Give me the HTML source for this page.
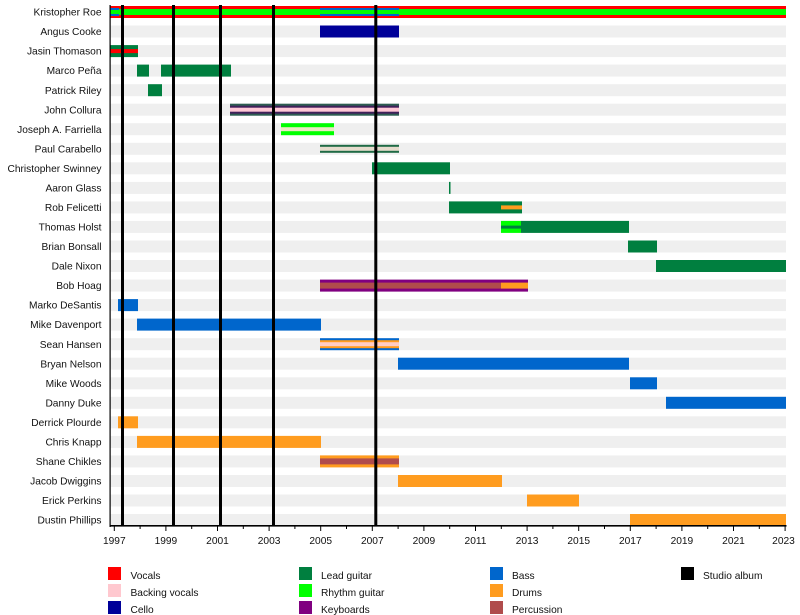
<!DOCTYPE html>
<html>
<head>
<meta charset="utf-8">
<style>
html,body{margin:0;padding:0;background:#fff;}
svg{display:block;}
text{font-family:"Liberation Sans",Arial,sans-serif;font-size:10.2px;fill:#111;}
</style>
</head>
<body>
<svg width="800" height="615" viewBox="0 0 800 615" xmlns="http://www.w3.org/2000/svg">
<!-- row stripes -->
<g fill="#efefef">
<rect x="110" y="6" width="676" height="12"/>
<rect x="110" y="25.5" width="676" height="12"/>
<rect x="110" y="45.1" width="676" height="12"/>
<rect x="110" y="64.6" width="676" height="12"/>
<rect x="110" y="84.2" width="676" height="12"/>
<rect x="110" y="103.7" width="676" height="12"/>
<rect x="110" y="123.2" width="676" height="12"/>
<rect x="110" y="142.8" width="676" height="12"/>
<rect x="110" y="162.3" width="676" height="12"/>
<rect x="110" y="181.9" width="676" height="12"/>
<rect x="110" y="201.4" width="676" height="12"/>
<rect x="110" y="220.9" width="676" height="12"/>
<rect x="110" y="240.5" width="676" height="12"/>
<rect x="110" y="260" width="676" height="12"/>
<rect x="110" y="279.6" width="676" height="12"/>
<rect x="110" y="299.1" width="676" height="12"/>
<rect x="110" y="318.6" width="676" height="12"/>
<rect x="110" y="338.2" width="676" height="12"/>
<rect x="110" y="357.7" width="676" height="12"/>
<rect x="110" y="377.3" width="676" height="12"/>
<rect x="110" y="396.8" width="676" height="12"/>
<rect x="110" y="416.3" width="676" height="12"/>
<rect x="110" y="435.9" width="676" height="12"/>
<rect x="110" y="455.4" width="676" height="12"/>
<rect x="110" y="475" width="676" height="12"/>
<rect x="110" y="494.5" width="676" height="12"/>
<rect x="110" y="514" width="676" height="12"/>
</g>

<!-- bars -->
<!-- 0 Kristopher Roe -->
<rect x="110" y="6" width="676" height="12" fill="#ff0000"/>
<rect x="110" y="9" width="676" height="6" fill="#00ff00"/>
<rect x="110" y="8" width="9" height="8" fill="#0066cc"/>
<rect x="110" y="10" width="9" height="4" fill="#00ff00"/>
<rect x="320" y="8" width="79" height="8" fill="#0066cc"/>
<rect x="320" y="10" width="79" height="4" fill="#00ff00"/>
<!-- 1 Angus Cooke -->
<rect x="320" y="25.5" width="79" height="12" fill="#000099"/>
<!-- 2 Jasin Thomason -->
<rect x="110" y="45.1" width="28" height="12" fill="#007f3f"/>
<rect x="110" y="49.1" width="28" height="4" fill="#ff0000"/>
<!-- 3 Marco Pena -->
<rect x="137" y="64.6" width="12" height="12" fill="#007f3f"/>
<rect x="161" y="64.6" width="70" height="12" fill="#007f3f"/>
<!-- 4 Patrick Riley -->
<rect x="148" y="84.2" width="14" height="12" fill="#007f3f"/>
<!-- 5 John Collura -->
<rect x="230" y="103.7" width="169" height="12" fill="#2d5e52"/>
<rect x="230" y="105.7" width="169" height="8" fill="#40205a"/>
<rect x="230" y="107.7" width="169" height="4" fill="#ffc8d6"/>
<!-- 6 Joseph A. Farriella -->
<rect x="281" y="123.2" width="53" height="12" fill="#00ff00"/>
<rect x="281" y="127.2" width="53" height="4" fill="#ece8c4"/>
<!-- 7 Paul Carabello -->
<rect x="320" y="144.8" width="79" height="8" fill="#1f6a45"/>
<rect x="320" y="146.8" width="79" height="4" fill="#e6dccd"/>
<!-- 8 Christopher Swinney -->
<rect x="372" y="162.3" width="78" height="12" fill="#007f3f"/>
<!-- 9 Aaron Glass -->
<rect x="449" y="181.9" width="1.5" height="12" fill="#007f3f"/>
<!-- 10 Rob Felicetti -->
<rect x="449" y="201.4" width="73" height="12" fill="#007f3f"/>
<rect x="501" y="205.4" width="21" height="4" fill="#ff9c1f"/>
<!-- 11 Thomas Holst -->
<rect x="501" y="220.9" width="20" height="12" fill="#00ff00"/>
<rect x="501" y="225.6" width="20" height="3" fill="#007f3f"/>
<rect x="521" y="220.9" width="108" height="12" fill="#007f3f"/>
<!-- 12 Brian Bonsall -->
<rect x="628" y="240.5" width="29" height="12" fill="#007f3f"/>
<!-- 13 Dale Nixon -->
<rect x="656" y="260" width="130" height="12" fill="#007f3f"/>
<!-- 14 Bob Hoag -->
<rect x="320" y="279.6" width="208" height="12" fill="#800080"/>
<rect x="320" y="282.6" width="181" height="6" fill="#b04c4c"/>
<rect x="501" y="282.6" width="27" height="6" fill="#ff9c1f"/>
<!-- 15 Marko DeSantis -->
<rect x="118" y="299.1" width="20" height="12" fill="#0066cc"/>
<!-- 16 Mike Davenport -->
<rect x="137" y="318.6" width="184" height="12" fill="#0066cc"/>
<!-- 17 Sean Hansen -->
<rect x="320" y="338.2" width="79" height="12" fill="#0066cc"/>
<rect x="320" y="340.2" width="79" height="8" fill="#ff9c1f"/>
<rect x="320" y="342.2" width="79" height="4" fill="#ffccc4"/>
<!-- 18 Bryan Nelson -->
<rect x="398" y="357.7" width="231" height="12" fill="#0066cc"/>
<!-- 19 Mike Woods -->
<rect x="630" y="377.3" width="27" height="12" fill="#0066cc"/>
<!-- 20 Danny Duke -->
<rect x="666" y="396.8" width="120" height="12" fill="#0066cc"/>
<!-- 21 Derrick Plourde -->
<rect x="118" y="416.3" width="20" height="12" fill="#ff9c1f"/>
<!-- 22 Chris Knapp -->
<rect x="137" y="435.9" width="184" height="12" fill="#ff9c1f"/>
<!-- 23 Shane Chikles -->
<rect x="320" y="455.4" width="79" height="12" fill="#ff9c1f"/>
<rect x="320" y="458.4" width="79" height="6" fill="#b04c4c"/>
<!-- 24 Jacob Dwiggins -->
<rect x="398" y="475" width="104" height="12" fill="#ff9c1f"/>
<!-- 25 Erick Perkins -->
<rect x="527" y="494.5" width="52" height="12" fill="#ff9c1f"/>
<!-- 26 Dustin Phillips -->
<rect x="630" y="514" width="156" height="12" fill="#ff9c1f"/>

<!-- studio album lines -->
<g fill="#000">
<rect x="121" y="5" width="3" height="521"/>
<rect x="172" y="5" width="3" height="521"/>
<rect x="219" y="5" width="3" height="521"/>
<rect x="272" y="5" width="3" height="521"/>
<rect x="374.3" y="5" width="3" height="521"/>
</g>

<!-- axes -->
<rect x="109.5" y="5" width="1.2" height="522" fill="#000"/>
<rect x="109.5" y="525" width="677" height="1.6" fill="#000"/>
<g stroke="#000" stroke-width="1">
<line x1="114.3" y1="526" x2="114.3" y2="531"/>
<line x1="140.1" y1="526" x2="140.1" y2="529"/>
<line x1="165.9" y1="526" x2="165.9" y2="531"/>
<line x1="191.7" y1="526" x2="191.7" y2="529"/>
<line x1="217.5" y1="526" x2="217.5" y2="531"/>
<line x1="243.3" y1="526" x2="243.3" y2="529"/>
<line x1="269.1" y1="526" x2="269.1" y2="531"/>
<line x1="294.9" y1="526" x2="294.9" y2="529"/>
<line x1="320.7" y1="526" x2="320.7" y2="531"/>
<line x1="346.5" y1="526" x2="346.5" y2="529"/>
<line x1="372.3" y1="526" x2="372.3" y2="531"/>
<line x1="398.1" y1="526" x2="398.1" y2="529"/>
<line x1="423.9" y1="526" x2="423.9" y2="531"/>
<line x1="449.7" y1="526" x2="449.7" y2="529"/>
<line x1="475.5" y1="526" x2="475.5" y2="531"/>
<line x1="501.3" y1="526" x2="501.3" y2="529"/>
<line x1="527.1" y1="526" x2="527.1" y2="531"/>
<line x1="552.9" y1="526" x2="552.9" y2="529"/>
<line x1="578.7" y1="526" x2="578.7" y2="531"/>
<line x1="604.5" y1="526" x2="604.5" y2="529"/>
<line x1="630.3" y1="526" x2="630.3" y2="531"/>
<line x1="656.1" y1="526" x2="656.1" y2="529"/>
<line x1="681.9" y1="526" x2="681.9" y2="531"/>
<line x1="707.7" y1="526" x2="707.7" y2="529"/>
<line x1="733.5" y1="526" x2="733.5" y2="531"/>
<line x1="759.3" y1="526" x2="759.3" y2="529"/>
<line x1="785.1" y1="526" x2="785.1" y2="531"/>
</g>
<g text-anchor="middle">
<text x="114.3" y="544">1997</text>
<text x="165.9" y="544">1999</text>
<text x="217.5" y="544">2001</text>
<text x="269.1" y="544">2003</text>
<text x="320.7" y="544">2005</text>
<text x="372.3" y="544">2007</text>
<text x="423.9" y="544">2009</text>
<text x="475.5" y="544">2011</text>
<text x="527.1" y="544">2013</text>
<text x="578.7" y="544">2015</text>
<text x="630.3" y="544">2017</text>
<text x="681.9" y="544">2019</text>
<text x="733.5" y="544">2021</text>
<text x="783.5" y="544">2023</text>
</g>

<!-- row labels -->
<g text-anchor="end">
<text x="101.5" y="15.6">Kristopher Roe</text>
<text x="101.5" y="35.1">Angus Cooke</text>
<text x="101.5" y="54.7">Jasin Thomason</text>
<text x="101.5" y="74.2">Marco Peña</text>
<text x="101.5" y="93.8">Patrick Riley</text>
<text x="101.5" y="113.3">John Collura</text>
<text x="101.5" y="132.8">Joseph A. Farriella</text>
<text x="101.5" y="152.4">Paul Carabello</text>
<text x="101.5" y="171.9">Christopher Swinney</text>
<text x="101.5" y="191.5">Aaron Glass</text>
<text x="101.5" y="211">Rob Felicetti</text>
<text x="101.5" y="230.5">Thomas Holst</text>
<text x="101.5" y="250.1">Brian Bonsall</text>
<text x="101.5" y="269.6">Dale Nixon</text>
<text x="101.5" y="289.2">Bob Hoag</text>
<text x="101.5" y="308.7">Marko DeSantis</text>
<text x="101.5" y="328.2">Mike Davenport</text>
<text x="101.5" y="347.8">Sean Hansen</text>
<text x="101.5" y="367.3">Bryan Nelson</text>
<text x="101.5" y="386.9">Mike Woods</text>
<text x="101.5" y="406.4">Danny Duke</text>
<text x="101.5" y="425.9">Derrick Plourde</text>
<text x="101.5" y="445.5">Chris Knapp</text>
<text x="101.5" y="465">Shane Chikles</text>
<text x="101.5" y="484.6">Jacob Dwiggins</text>
<text x="101.5" y="504.1">Erick Perkins</text>
<text x="101.5" y="523.6">Dustin Phillips</text>
</g>

<!-- legend -->
<rect x="108" y="567" width="13" height="13" fill="#ff0000"/>
<rect x="108" y="584" width="13" height="13" fill="#ffc8cf"/>
<rect x="108" y="601" width="13" height="13" fill="#000099"/>
<text x="130.5" y="579">Vocals</text>
<text x="130.5" y="596">Backing vocals</text>
<text x="130.5" y="613">Cello</text>

<rect x="299" y="567" width="13" height="13" fill="#007f3f"/>
<rect x="299" y="584" width="13" height="13" fill="#00ff00"/>
<rect x="299" y="601" width="13" height="13" fill="#800080"/>
<text x="321" y="579">Lead guitar</text>
<text x="321" y="596">Rhythm guitar</text>
<text x="321" y="613">Keyboards</text>

<rect x="490" y="567" width="13" height="13" fill="#0066cc"/>
<rect x="490" y="584" width="13" height="13" fill="#ff9c1f"/>
<rect x="490" y="601" width="13" height="13" fill="#b04c4c"/>
<text x="512" y="579">Bass</text>
<text x="512" y="596">Drums</text>
<text x="512" y="613">Percussion</text>

<rect x="681" y="567" width="13" height="13" fill="#000"/>
<text x="703" y="579">Studio album</text>
</svg>
</body>
</html>
